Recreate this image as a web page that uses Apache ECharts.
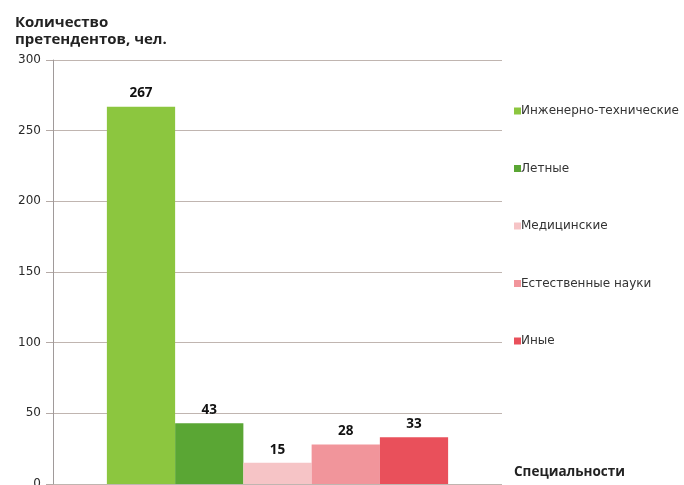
<!DOCTYPE html>
<html><head><meta charset="utf-8">
<script src="https://cdn.jsdelivr.net/npm/echarts@6/dist/echarts.min.js"></script>
<style>html,body{margin:0;padding:0;background:#fff}#c{width:684px;height:485px}</style>
</head><body><div id="c"></div>
<script>
const seriesNames = ['Инженерно-технические','Летные','Медицинские','Естественные науки','Иные'];
const seriesValues = [267, 43, 15, 28, 33];
const seriesColors = ['#8cc63f','#5aa634','#f6c4c6','#f1959b','#e9505b'];
const yTicks = {min:0, max:300, interval:50};

const chart = echarts.init(document.getElementById('c'));
const font = '"Open Sans", sans-serif';
chart.setOption({
  animation:false,
  backgroundColor:'#fff',
  textStyle:{fontFamily:font},
  title:[
    {text:'Количество\nпретендентов, чел.', left:10, top:9,
     textStyle:{fontSize:15, fontWeight:'bold', color:'#222', lineHeight:17, fontFamily:font}},
    {text:'Специальности', left:509, top:460,
     textStyle:{fontSize:13.5, fontWeight:'bold', color:'#222', fontFamily:font}}
  ],
  legend:{orient:'vertical', left:509, top:100, itemWidth:7, itemHeight:7, itemGap:45.5,
    icon:'rect', textStyle:{fontSize:12, color:'#333', fontFamily:'"DejaVu Sans", sans-serif', padding:[0,0,0,-5]},
    data:seriesNames},
  grid:{left:53, right:182, top:60, bottom:1, containLabel:false, outerBoundsMode:'none'},
  xAxis:{type:'category', data:[''], axisLine:{show:false}, axisTick:{show:false}, axisLabel:{show:false}},
  yAxis:{type:'value', min:yTicks.min, max:yTicks.max, interval:yTicks.interval,
    axisLine:{show:true, lineStyle:{color:'#a09a9a', width:1}},
    axisTick:{show:true, length:7, lineStyle:{color:'#b5aaa6'}},
    axisLabel:{fontSize:12, color:'#2a2a2a', margin:12, fontFamily:'"DejaVu Sans", sans-serif'},
    splitLine:{lineStyle:{color:'#c0b5b0', width:1.2}}},
  series: seriesNames.map((n,i)=>({
    name:n, type:'bar', barGap:'0%', barCategoryGap:'24%',
    itemStyle:{color:seriesColors[i]},
    label:{show:true, position:'top', distance:6, fontWeight:'bold', fontSize:13.5, color:'#111', fontFamily:font},
    data:[seriesValues[i]]
  }))
});
</script></body></html>
